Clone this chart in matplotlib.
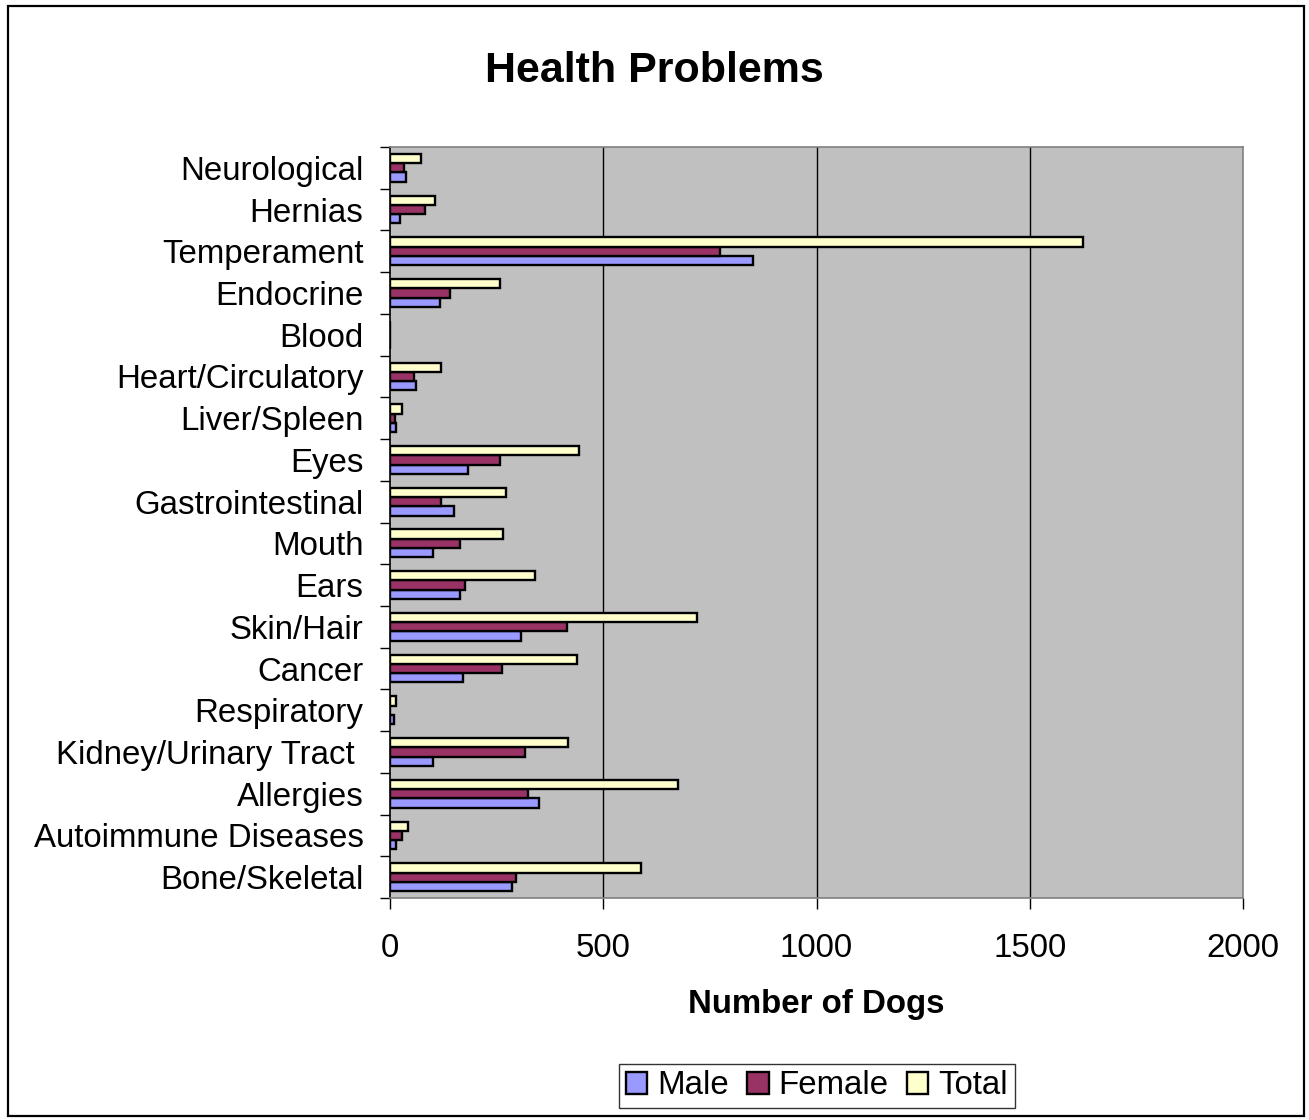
import numpy as np
import matplotlib
matplotlib.use("Agg")
import matplotlib.pyplot as plt
from matplotlib.patches import Rectangle

plt.rcParams['font.family'] = ['Liberation Sans', 'DejaVu Sans']

# categories listed bottom to top
categories = ["Bone/Skeletal", "Autoimmune Diseases", "Allergies", "Kidney/Urinary Tract ",
              "Respiratory", "Cancer", "Skin/Hair", "Ears", "Mouth", "Gastrointestinal",
              "Eyes", "Liver/Spleen", "Heart/Circulatory", "Blood", "Endocrine",
              "Temperament", "Hernias", "Neurological"]
male   = [286, 13, 349, 101, 9, 170, 306, 164, 101, 151, 184, 13, 62, 0, 117, 850, 23, 38]
female = [296, 27, 324, 316, 0, 262, 414, 175, 164, 120, 257, 12, 57, 0, 140, 774, 81, 33]
total  = [588, 43, 676, 418, 13, 438, 720, 340, 266, 273, 442, 27, 120, 0, 257, 1626, 106, 72]
xticks = [0, 500, 1000, 1500, 2000]

c_male, c_female, c_total = '#9999FF', '#993366', '#FFFFCC'
fs = 23.8

fig = plt.figure(figsize=(13.09, 11.2), dpi=100)
ax = fig.add_axes([390/1309, 1-898/1120, 853/1309, 751/1120])
ax.set_facecolor('#C0C0C0')

y = np.arange(len(categories))
h = 0.222
ax.barh(y - h, male, height=h, color=c_male, edgecolor='black', linewidth=1.7, label='Male', zorder=3)
ax.barh(y, female, height=h, color=c_female, edgecolor='black', linewidth=1.7, label='Female', zorder=3)
ax.barh(y + h, total, height=h, color=c_total, edgecolor='black', linewidth=1.7, label='Total', zorder=3)

ax.set_xlim(0, 2000)
ax.set_ylim(-0.5, len(categories) - 0.5)
ax.set_xticks(xticks)
ax.set_xticklabels([str(t) for t in xticks], fontsize=fs)
for gx in xticks[1:-1]:
    ax.axvline(gx, color='black', linewidth=1, zorder=1)

ax.set_yticks(y)
ax.set_yticklabels(categories, fontsize=fs)
ax.set_yticks(np.arange(-0.5, len(categories)), minor=True)
ax.tick_params(axis='y', which='major', length=0, pad=19)
ax.tick_params(axis='y', which='minor', length=7, width=1, color='black')
ax.tick_params(axis='x', which='major', length=8, width=1, color='black', pad=17)

ax.spines['left'].set_color('black')
ax.spines['bottom'].set_color('#808080')
ax.spines['top'].set_color('#808080')
ax.spines['right'].set_color('#808080')
for s in ax.spines.values():
    s.set_linewidth(1.2)

ax.set_xlabel("Number of Dogs", fontsize=fs, fontweight='bold', va='center')
ax.xaxis.set_label_coords(0.5, (898 - 1005) / 751)

fig.text(0.5, 1 - 71/1120, "Health Problems", fontsize=31, fontweight='bold', ha='center', va='center')

handles, labels = ax.get_legend_handles_labels()
leg = fig.legend(handles, labels, loc='center', bbox_to_anchor=(817/1309, 1 - 1086/1120),
                 ncol=3, fontsize=fs, frameon=True, fancybox=False, edgecolor='black',
                 handlelength=0.65, handleheight=0.65, handletextpad=0.3, columnspacing=0.55,
                 borderpad=0.2)
leg.get_frame().set_linewidth(1.0)

fig.patches.append(Rectangle((8/1309, 1 - 1116/1120), 1296/1309, 1110/1120,
                             transform=fig.transFigure, fill=False, edgecolor='black',
                             linewidth=1.6))

fig.savefig("out.png", dpi=100)
